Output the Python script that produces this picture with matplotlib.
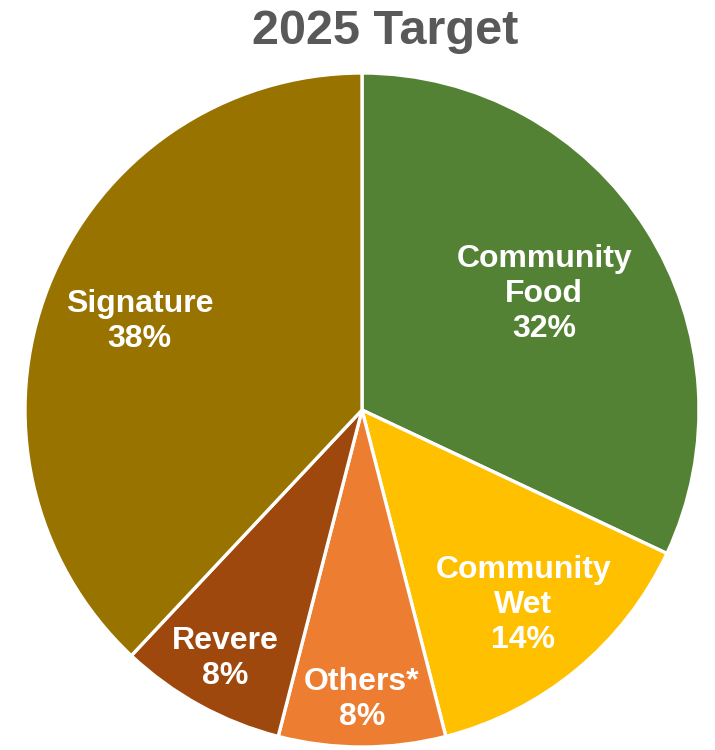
import numpy as np
import matplotlib
matplotlib.use("Agg")
import matplotlib.pyplot as plt

plt.rcParams["font.family"] = ["Liberation Sans", "DejaVu Sans"]

# Portfolio mix, clockwise from 12 o'clock
segments = ["Community\nFood", "Community\nWet", "Others*", "Revere", "Signature"]
shares = [32, 14, 8, 8, 38]
colors = ["#548235", "#FFC000", "#ED7D31", "#9E480E", "#997300"]
label_radius = [0.64, 0.75, 0.86, 0.84, 0.71]

fig = plt.figure(figsize=(7.15, 7.5), dpi=100)
ax = fig.add_axes([25 / 715, 3 / 750, 674 / 715, 674 / 750])

wedges, _ = ax.pie(shares, colors=colors, startangle=90, counterclock=False,
                   radius=1.0, wedgeprops=dict(edgecolor="white", linewidth=2.4))

for w, name, pct, r in zip(wedges, segments, shares, label_radius):
    mid = np.deg2rad((w.theta1 + w.theta2) / 2)
    ax.text(r * np.cos(mid), r * np.sin(mid), f"{name}\n{pct}%",
            ha="center", va="center", color="white", fontsize=23,
            fontweight="bold", linespacing=1.22)

ax.set_xlim(-1, 1)
ax.set_ylim(-1, 1)
ax.set_aspect("equal")
ax.axis("off")

fig.text(385 / 715, 1 - 32 / 750, "2025 Target", ha="center", va="center",
         fontsize=35, fontweight="bold", color="#595959")

fig.savefig("out.png", dpi=100)
